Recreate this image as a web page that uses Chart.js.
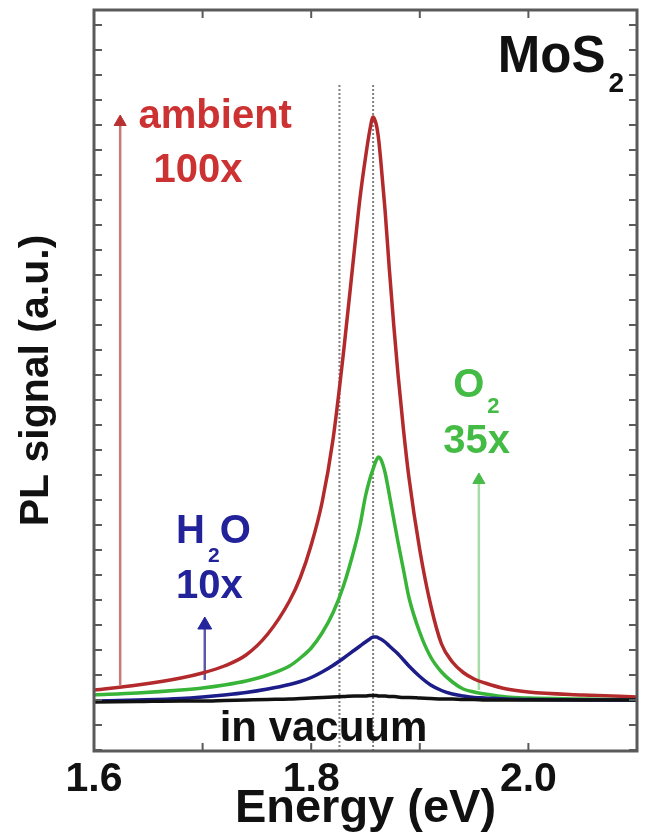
<!DOCTYPE html>
<html>
<head>
<meta charset="utf-8">
<script src="https://cdn.jsdelivr.net/npm/chart.js@4.4.1/dist/chart.umd.min.js"></script>
<style>
  html, body { margin: 0; padding: 0; background: #fff; }
  canvas { display: block; }
</style>
</head>
<body>
<canvas id="plChart" width="646" height="837"></canvas>
<script>
// Photon energy grid (eV), shared by all spectra
const energy = [1.60, 1.64, 1.68, 1.70, 1.72, 1.74, 1.76, 1.78, 1.79, 1.80,
                1.81, 1.82, 1.83, 1.84, 1.845, 1.85, 1.854, 1.857, 1.860, 1.862,
                1.864, 1.868, 1.872, 1.876, 1.88, 1.885, 1.89, 1.90, 1.91, 1.92,
                1.93, 1.94, 1.95, 1.96, 1.98, 2.00, 2.05, 2.10];

// PL intensity (a.u.)
const ambient = [1.20, 1.30, 1.44, 1.54, 1.68, 1.90, 2.32, 2.98, 3.45, 4.10,
                 4.95, 6.20, 8.00, 10.05, 11.05, 11.85, 12.40, 12.66, 12.50, 12.23,
                 11.80, 10.80, 9.60, 8.50, 7.50, 6.40, 5.45, 4.00, 2.90, 2.12,
                 1.76, 1.55, 1.42, 1.34, 1.22, 1.16, 1.10, 1.06];
const oxygen  = [1.10, 1.14, 1.20, 1.24, 1.30, 1.38, 1.50, 1.68, 1.84, 2.04,
                 2.34, 2.74, 3.30, 4.05, 4.50, 5.08, 5.42, 5.62, 5.80, 5.86,
                 5.82, 5.55, 5.10, 4.62, 4.15, 3.60, 3.05, 2.35, 1.86, 1.56,
                 1.36, 1.22, 1.16, 1.12, 1.06, 1.04, 1.02, 1.00];
const water   = [0.98, 1.00, 1.03, 1.06, 1.10, 1.15, 1.22, 1.31, 1.37, 1.45,
                 1.56, 1.69, 1.84, 2.00, 2.08, 2.16, 2.22, 2.26, 2.26, 2.24,
                 2.22, 2.16, 2.08, 2.00, 1.92, 1.80, 1.68, 1.47, 1.30, 1.19,
                 1.12, 1.08, 1.05, 1.04, 1.02, 1.01, 1.00, 1.00];
const vacuum  = [0.96, 0.97, 0.98, 0.98, 0.99, 1.00, 1.01, 1.02, 1.03, 1.04,
                 1.05, 1.06, 1.07, 1.08, 1.08, 1.08, 1.09, 1.09, 1.09, 1.08,
                 1.08, 1.08, 1.07, 1.07, 1.06, 1.05, 1.05, 1.04, 1.03, 1.02,
                 1.02, 1.01, 1.01, 1.00, 1.00, 1.00, 1.00, 1.00];

// dotted guides at the two peak energies
const peakLines = [1.826, 1.857];
const peakLineTop = 13.34;

// enhancement arrows: energy, start, head centre
const arrowX     = [1.6241, 1.702, 1.9544];
const arrowFrom  = [1.3, 1.4, 1.2];
const arrowTo    = [12.56, 2.5, 5.4];

const xTickLabels = [1.6, 1.8, 2.0];
const xTickMarks  = [1.6, 1.7, 1.8, 1.9, 2.0, 2.1];
const yTickStep   = 0.5;

const FONT = '"Liberation Sans", Arial, Helvetica, sans-serif';
const RED = '#b32a2c', GREEN = '#38b438', BLUE = '#1d1d8a', BLACK = '#111111';

// text notes, anchored in data coordinates (left edge, baseline)
const notes = [
  { parts: [['ambient', 0]], x: 1.641, y: 12.44, color: '#cc3232', size: 40 },
  { parts: [['100x', 0]], x: 1.6547, y: 11.36, color: '#cc3232', size: 40 },
  { parts: [['MoS', 0], ['2', 1]], x: 1.9718, y: 13.56, color: BLACK, size: 51, sub: 28, drop: 20 },
  { parts: [['H', 0], ['2', 1], ['O', 0]], x: 1.6756, y: 4.14, color: '#22229a', size: 40, sub: 21, drop: 19 },
  { parts: [['10x', 0]], x: 1.6756, y: 3.04, color: '#22229a', size: 40 },
  { parts: [['O', 0], ['2', 1]], x: 1.9308, y: 7.06, color: '#44bb44', size: 40, sub: 22, drop: 16 },
  { parts: [['35x', 0]], x: 1.9217, y: 5.94, color: '#44bb44', size: 40 },
  { parts: [['in vacuum', 0]], x: 1.7157, y: 0.18, color: BLACK, size: 42 }
];

const pts = ys => energy.map((x, i) => ({ x, y: ys[i] }));

function spectrum(ys, color) {
  return {
    data: pts(ys),
    borderColor: color,
    borderWidth: 3.5,
    pointRadius: 0,
    cubicInterpolationMode: 'monotone',
    fill: false
  };
}

function arrow(i, shaft, head, r) {
  return {
    data: [{ x: arrowX[i], y: arrowFrom[i] }, { x: arrowX[i], y: arrowTo[i] }],
    borderColor: shaft,
    borderWidth: 2.5,
    pointRadius: [0, r],
    pointStyle: 'triangle',
    pointBackgroundColor: head,
    pointBorderColor: head,
    pointBorderWidth: 1
  };
}

const datasets = [
  spectrum(vacuum, BLACK),
  spectrum(water, BLUE),
  spectrum(oxygen, GREEN),
  spectrum(ambient, RED),
  arrow(0, '#c87a7a', '#b83030', 7),
  arrow(1, '#5a5aa8', '#24249c', 8),
  arrow(2, '#a6dca6', '#48bb48', 7),
  ...peakLines.map(e => ({
    data: [{ x: e, y: -0.02 }, { x: e, y: peakLineTop }],
    borderColor: '#808080',
    borderWidth: 2,
    borderDash: [2, 2],
    pointRadius: 0
  }))
];

// box frame with inward ticks on all four sides, then the text notes
const framePlugin = {
  id: 'frame',
  afterDatasetsDraw(chart) {
    const { ctx, chartArea: a, scales: { x, y } } = chart;
    ctx.save();
    ctx.strokeStyle = '#5a5a5a';
    ctx.lineWidth = 2;
    ctx.beginPath();
    xTickMarks.forEach(v => {
      const px = x.getPixelForValue(v);
      ctx.moveTo(px, a.bottom); ctx.lineTo(px, a.bottom - 8);
      ctx.moveTo(px, a.top); ctx.lineTo(px, a.top + 8);
    });
    for (let v = 0; v < y.max; v += yTickStep) {
      const py = y.getPixelForValue(v);
      ctx.moveTo(a.left, py); ctx.lineTo(a.left + 8, py);
      ctx.moveTo(a.right, py); ctx.lineTo(a.right - 8, py);
    }
    ctx.stroke();
    ctx.lineWidth = 3;
    ctx.strokeRect(a.left, a.top, a.right - a.left, a.bottom - a.top);

    ctx.textBaseline = 'alphabetic';
    ctx.textAlign = 'left';
    notes.forEach(n => {
      let px = x.getPixelForValue(n.x);
      const py = y.getPixelForValue(n.y);
      ctx.fillStyle = n.color;
      n.parts.forEach(([t, isSub]) => {
        const size = isSub ? n.sub : n.size;
        ctx.font = `bold ${size}px ${FONT}`;
        const dx = isSub ? 3 : 1;
        ctx.fillText(t, px + (isSub ? dx : 0), py + (isSub ? n.drop : 0));
        px += ctx.measureText(t).width + (isSub ? dx : 0);
      });
    });
    ctx.restore();
  }
};

new Chart(document.getElementById('plChart'), {
  type: 'line',
  data: { datasets },
  options: {
    responsive: false,
    animation: false,
    layout: { padding: { top: 10, right: 2, left: 0, bottom: 0 } },
    plugins: { legend: { display: false }, tooltip: { enabled: false } },
    scales: {
      x: {
        type: 'linear', min: 1.6, max: 2.1,
        grid: { display: false, drawTicks: false },
        border: { display: false },
        afterBuildTicks: s => { s.ticks = xTickLabels.map(v => ({ value: v })); },
        afterFit: s => { s.height = 86; },
        ticks: {
          padding: 4, color: BLACK, autoSkip: false, maxRotation: 0,
          font: { family: FONT, size: 41, weight: 'bold' },
          callback: v => v.toFixed(1)
        },
        title: {
          display: true, text: 'Energy (eV)', color: BLACK,
          font: { family: FONT, size: 47, weight: 'bold' },
          padding: { top: 0, bottom: 0 }
        }
      },
      y: {
        min: -0.02, max: 14.8,
        grid: { display: false, drawTicks: false },
        border: { display: false },
        ticks: { display: false },
        afterFit: s => { s.width = 94; },
        title: {
          display: true, text: 'PL signal (a.u.)', color: BLACK,
          font: { family: FONT, size: 41, weight: 'bold' },
          padding: { top: 12, bottom: 0 }
        }
      }
    }
  },
  plugins: [framePlugin]
});
</script>
</body>
</html>
